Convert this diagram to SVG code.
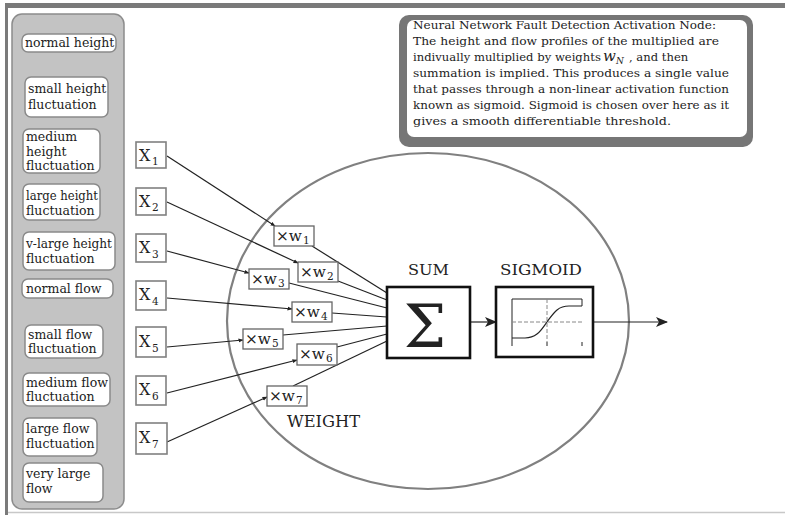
<svg xmlns="http://www.w3.org/2000/svg" width="785" height="515" viewBox="0 0 785 515">
<style>
  text { font-family: "DejaVu Serif", "Liberation Serif", serif; fill: #222; }
  .lbl { font-size: 12.5px; }
  .item { fill: #fff; stroke: #8a8a8a; stroke-width: 1.5; }
  .xbox { fill: #fff; stroke: #808080; stroke-width: 1.6; }
  .wbox { fill: #fff; stroke: #666; stroke-width: 1.3; }
  .xt { font-size: 16px; }
  .sub { font-size: 10.5px; }
  .wt { font-size: 14px; }
  .con { fill: none; stroke: #222; stroke-width: 1.2; }
  .box { fill: #fff; stroke: #111; stroke-width: 2.6; }
  .note { font-size: 11.6px; }
</style>
<defs>
  <marker id="sm" viewBox="0 0 10 10" refX="9" refY="5" markerWidth="5" markerHeight="5" orient="auto" markerUnits="userSpaceOnUse">
    <path d="M0,1 L10,5 L0,9 Z" fill="#222"/>
  </marker>
  <marker id="big" viewBox="0 0 12 10" refX="11" refY="5" markerWidth="13" markerHeight="10" orient="auto" markerUnits="userSpaceOnUse">
    <path d="M0,0 L12,5 L0,10 L3,5 Z" fill="#222"/>
  </marker>
</defs>

<!-- frame -->
<rect x="0" y="0" width="785" height="515" fill="#fff"/>
<rect x="5" y="3" width="780" height="5" fill="#7a7a7a"/>
<rect x="5" y="3" width="3" height="512" fill="#7a7a7a"/>
<line x1="8" y1="512.5" x2="785" y2="512.5" stroke="#c8c8c8" stroke-width="1.5"/>

<!-- left panel -->
<g id="panel">
  <rect x="12" y="14" width="112" height="495" rx="10" fill="#c3c3c3" stroke="#8c8c8c" stroke-width="1.5"/>
</g>
<g id="normal-height"><rect class="item" x="22" y="34" width="94" height="18" rx="6"/><text class="lbl" x="25" y="47">normal height</text></g>
<g id="small-height"><rect class="item" x="25" y="77" width="83" height="40" rx="6"/><text class="lbl" x="28" y="93">small height</text><text class="lbl" x="28" y="109">fluctuation</text></g>
<g id="medium-height"><rect class="item" x="23" y="129" width="77" height="44" rx="6"/><text class="lbl" x="26" y="141">medium</text><text class="lbl" x="26" y="156">height</text><text class="lbl" x="26" y="170">fluctuation</text></g>
<g id="large-height"><rect class="item" x="23" y="184" width="77" height="36" rx="6"/><text class="lbl" x="26" y="200" textLength="72" lengthAdjust="spacingAndGlyphs">large height</text><text class="lbl" x="26" y="215">fluctuation</text></g>
<g id="vlarge-height"><rect class="item" x="23" y="232" width="92" height="38" rx="6"/><text class="lbl" x="26" y="248" textLength="86" lengthAdjust="spacingAndGlyphs">v-large height</text><text class="lbl" x="26" y="263">fluctuation</text></g>
<g id="normal-flow"><rect class="item" x="22" y="279" width="91" height="19" rx="6"/><text class="lbl" x="26" y="293">normal flow</text></g>
<g id="small-flow"><rect class="item" x="25" y="325" width="78" height="33" rx="6"/><text class="lbl" x="28" y="339">small flow</text><text class="lbl" x="28" y="353">fluctuation</text></g>
<g id="medium-flow"><rect class="item" x="23" y="373" width="87" height="33" rx="6"/><text class="lbl" x="26" y="387" textLength="82" lengthAdjust="spacingAndGlyphs">medium flow</text><text class="lbl" x="26" y="401">fluctuation</text></g>
<g id="large-flow"><rect class="item" x="23" y="418" width="74" height="38" rx="6"/><text class="lbl" x="26" y="433">large flow</text><text class="lbl" x="26" y="448">fluctuation</text></g>
<g id="very-large-flow"><rect class="item" x="23" y="463" width="80" height="39" rx="6"/><text class="lbl" x="26" y="478">very large</text><text class="lbl" x="26" y="493">flow</text></g>

<!-- note box -->
<g id="note">
  <rect x="399" y="15" width="354" height="132" rx="10" fill="#767676"/>
  <rect x="407" y="20" width="340" height="117" rx="7" fill="#fff"/>
  <text class="note" x="413" y="29" textLength="303" lengthAdjust="spacingAndGlyphs">Neural Network Fault Detection Activation Node:</text>
  <text class="note" x="413" y="45" textLength="306" lengthAdjust="spacingAndGlyphs">The height and flow profiles of the multiplied are</text>
  <text class="note" x="413" y="61">indivually multiplied by weights</text>
  <text x="603" y="61" font-size="15" font-style="italic" font-family="Liberation Serif, serif">w</text><text x="616" y="64" font-size="9" font-style="italic" font-family="Liberation Serif, serif">N</text>
  <text class="note" x="629" y="61">, and then</text>
  <text class="note" x="413" y="77" textLength="316" lengthAdjust="spacingAndGlyphs">summation is implied. This produces a single value</text>
  <text class="note" x="413" y="93" textLength="316" lengthAdjust="spacingAndGlyphs">that passes through a non-linear activation function</text>
  <text class="note" x="413" y="109" textLength="316" lengthAdjust="spacingAndGlyphs">known as sigmoid. Sigmoid is chosen over here as it</text>
  <text class="note" x="413" y="125" textLength="258" lengthAdjust="spacingAndGlyphs">gives a smooth differentiable threshold.</text>
</g>

<!-- node ellipse -->
<g id="neuron">
  <ellipse cx="428" cy="321" rx="201" ry="168" fill="none" stroke="#808080" stroke-width="2.2"/>
  <text x="287" y="427" font-size="16" textLength="73" lengthAdjust="spacingAndGlyphs">WEIGHT</text>
</g>

<!-- connectors -->
<g id="connectors">
  <line class="con" x1="167" y1="156" x2="275" y2="226" marker-end="url(#sm)"/>
  <line class="con" x1="167" y1="202" x2="298" y2="263" marker-end="url(#sm)"/>
  <line class="con" x1="167" y1="251" x2="249" y2="273" marker-end="url(#sm)"/>
  <line class="con" x1="167" y1="298" x2="292" y2="309" marker-end="url(#sm)"/>
  <line class="con" x1="167" y1="347" x2="243" y2="340" marker-end="url(#sm)"/>
  <line class="con" x1="167" y1="393" x2="297" y2="360" marker-end="url(#sm)"/>
  <line class="con" x1="167" y1="442" x2="267" y2="397" marker-end="url(#sm)"/>

  <line class="con" x1="312" y1="246" x2="387" y2="293"/>
  <line class="con" x1="338" y1="281" x2="387" y2="300"/>
  <line class="con" x1="289" y1="283" x2="387" y2="308"/>
  <line class="con" x1="332" y1="313" x2="387" y2="317"/>
  <line class="con" x1="283" y1="335" x2="387" y2="326"/>
  <line class="con" x1="337" y1="347" x2="387" y2="334"/>
  <line class="con" x1="293" y1="386" x2="387" y2="341"/>

  <line class="con" x1="470" y1="322" x2="496" y2="322" marker-end="url(#big)" stroke-width="1.6"/>
  <line class="con" x1="593" y1="322" x2="667" y2="322" marker-end="url(#big)" stroke-width="1.4"/>
</g>

<!-- inputs -->
<g id="x1"><rect class="xbox" x="136" y="142" width="30" height="26"/><text class="xt" x="139" y="161">X</text><text class="sub" x="152" y="165">1</text></g>
<g id="x2"><rect class="xbox" x="136" y="188" width="30" height="27"/><text class="xt" x="139" y="207">X</text><text class="sub" x="152" y="211">2</text></g>
<g id="x3"><rect class="xbox" x="136" y="234" width="30" height="28"/><text class="xt" x="139" y="253">X</text><text class="sub" x="152" y="258">3</text></g>
<g id="x4"><rect class="xbox" x="136" y="281" width="30" height="29"/><text class="xt" x="139" y="300">X</text><text class="sub" x="152" y="305">4</text></g>
<g id="x5"><rect class="xbox" x="136" y="327" width="30" height="30"/><text class="xt" x="139" y="347">X</text><text class="sub" x="152" y="352">5</text></g>
<g id="x6"><rect class="xbox" x="136" y="376" width="30" height="29"/><text class="xt" x="139" y="395">X</text><text class="sub" x="152" y="400">6</text></g>
<g id="x7"><rect class="xbox" x="136" y="423" width="31" height="31"/><text class="xt" x="139" y="443">X</text><text class="sub" x="152" y="448">7</text></g>

<!-- weights -->
<g id="w1"><rect class="wbox" x="274" y="226" width="40" height="20"/><text class="wt" x="276" y="241" textLength="26" lengthAdjust="spacingAndGlyphs">×w</text><text class="sub" x="303" y="244">1</text></g>
<g id="w2"><rect class="wbox" x="298" y="262" width="40" height="20"/><text class="wt" x="300" y="277" textLength="26" lengthAdjust="spacingAndGlyphs">×w</text><text class="sub" x="327" y="280">2</text></g>
<g id="w3"><rect class="wbox" x="249" y="269" width="40" height="20"/><text class="wt" x="251" y="284" textLength="26" lengthAdjust="spacingAndGlyphs">×w</text><text class="sub" x="278" y="287">3</text></g>
<g id="w4"><rect class="wbox" x="292" y="302" width="40" height="20"/><text class="wt" x="294" y="317" textLength="26" lengthAdjust="spacingAndGlyphs">×w</text><text class="sub" x="321" y="320">4</text></g>
<g id="w5"><rect class="wbox" x="243" y="329" width="40" height="20"/><text class="wt" x="245" y="344" textLength="26" lengthAdjust="spacingAndGlyphs">×w</text><text class="sub" x="272" y="347">5</text></g>
<g id="w6"><rect class="wbox" x="297" y="344" width="40" height="21"/><text class="wt" x="299" y="359" textLength="26" lengthAdjust="spacingAndGlyphs">×w</text><text class="sub" x="326" y="362">6</text></g>
<g id="w7"><rect class="wbox" x="267" y="386" width="40" height="20"/><text class="wt" x="269" y="401" textLength="26" lengthAdjust="spacingAndGlyphs">×w</text><text class="sub" x="296" y="404">7</text></g>

<!-- sum -->
<g id="sum">
  <text x="408" y="275" font-size="14.5" textLength="41" lengthAdjust="spacingAndGlyphs">SUM</text>
  <rect class="box" x="387" y="287" width="83" height="71"/>
  <text x="425" y="347" font-size="60" text-anchor="middle" font-family="Liberation Serif, serif">Σ</text>
</g>

<!-- sigmoid -->
<g id="sigmoid">
  <text x="500" y="275" font-size="14.5" textLength="82" lengthAdjust="spacingAndGlyphs">SIGMOID</text>
  <rect class="box" x="496" y="287" width="97" height="70"/>
  <path d="M512,299 H582 V306 M512,299 V346 M547,342 V346 M582,342 V346" fill="none" stroke="#222" stroke-width="1"/>
  <path d="M547,299 V342 M512,322 H582" fill="none" stroke="#888" stroke-width="1" stroke-dasharray="4,2"/>
  <path d="M512,338 H525 C537,338 541,330 547,322 C553,314 557,306 569,306 H582" fill="none" stroke="#222" stroke-width="1.2"/>
</g>
</svg>
